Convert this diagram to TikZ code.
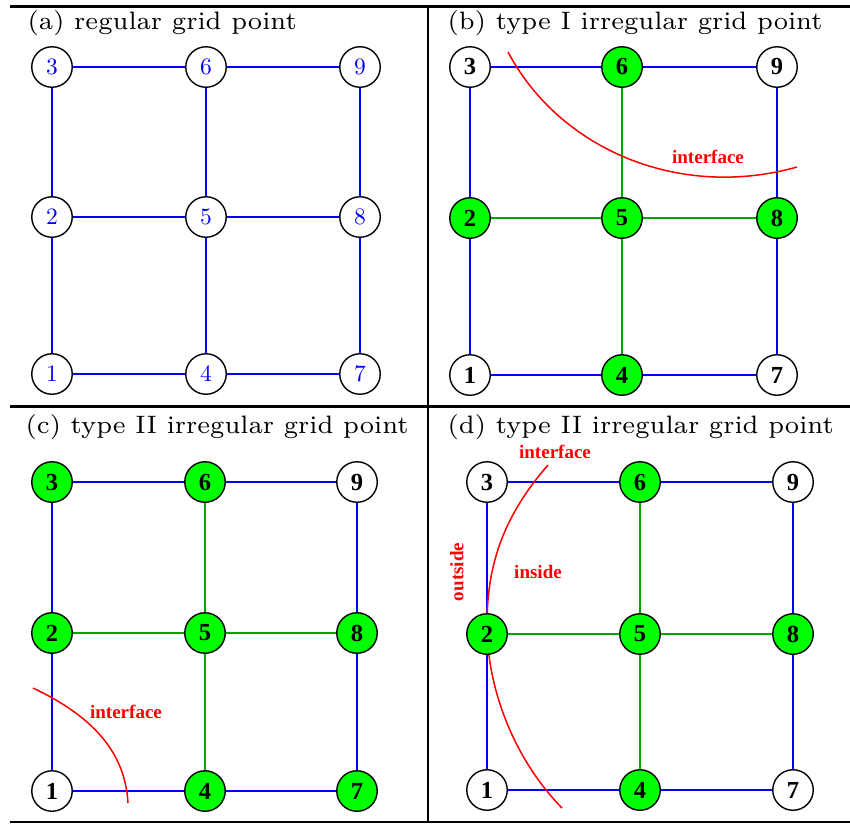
\documentclass[tikz,border=0pt]{standalone}
\usepackage{graphicx}
\usepackage{fontspec}
\newfontfamily\tnr{Liberation Serif}
\definecolor{gfill}{RGB}{0,255,0}
\definecolor{gedge}{RGB}{0,165,0}
\definecolor{bl}{RGB}{0,0,255}
\definecolor{rd}{RGB}{255,0,0}
\newcommand{\regnum}[1]{\scalebox{2.35}{\fontsize{10}{12}\selectfont #1}}
\pgfdeclarelayer{bglayer}
\pgfsetlayers{bglayer,main}
\begin{document}
\begin{tikzpicture}[x=1pt,y=-1pt,
 gp/.style={circle,draw=black,line width=1.4pt,minimum size=40.5pt,inner sep=0pt,fill=white},
 reg/.style={gp,text=bl},
 irr/.style={gp,font=\tnr\bfseries\fontsize{24.5}{24.5}\selectfont},
 on/.style={fill=gfill},
 be/.style={draw=bl,line width=2pt},
 ge/.style={draw=gedge,line width=2pt},
 ifc/.style={draw=rd,line width=1.5pt},
 ilab/.style={text=rd,font=\tnr\bfseries\fontsize{19}{19}\selectfont,inner sep=0pt},
 ttl/.style={anchor=base west,inner sep=0pt,scale=3.6,font=\fontsize{7}{8}\selectfont},
 framel/.style={line width=2.5pt}]
\useasboundingbox (0,0) rectangle (850,823);
% frame
\draw[framel] (10,6.5) -- (850,6.5);
\draw[framel] (10,406.5) -- (850,406.5);
\draw[framel] (10,822) -- (850,822);
\draw[framel] (428,5) -- (428,823);
% titles
\node[ttl] (ta) at (27,29) {(a) regular grid point};
\node[ttl] (tb) at (447,29) {(b) type I irregular grid point};
\node[ttl] (tc) at (25,433) {(c) type II irregular grid point};
\node[ttl] (td) at (447,433) {(d) type II irregular grid point};
% panel a
\node[reg] (a3) at (52,67) {\regnum{3}};
\node[reg] (a6) at (206,67) {\regnum{6}};
\node[reg] (a9) at (360,67) {\regnum{9}};
\node[reg] (a2) at (52,217) {\regnum{2}};
\node[reg] (a5) at (206,217) {\regnum{5}};
\node[reg] (a8) at (360,217) {\regnum{8}};
\node[reg] (a1) at (52,374) {\regnum{1}};
\node[reg] (a4) at (206,374) {\regnum{4}};
\node[reg] (a7) at (360,374) {\regnum{7}};
% panel b
\node[irr] (b3) at (470,67) {3};
\node[irr,on] (b6) at (622,67) {6};
\node[irr] (b9) at (777,67) {9};
\node[irr,on] (b2) at (470,218) {2};
\node[irr,on] (b5) at (622,218) {5};
\node[irr,on] (b8) at (777,218) {8};
\node[irr] (b1) at (470,375) {1};
\node[irr,on] (b4) at (622,375) {4};
\node[irr] (b7) at (777,375) {7};
\node[ilab] (lb) at (708,157) {interface};
% panel c
\node[irr,on] (c3) at (52,482) {3};
\node[irr,on] (c6) at (205,482) {6};
\node[irr] (c9) at (357,482) {9};
\node[irr,on] (c2) at (52,633) {2};
\node[irr,on] (c5) at (205,633) {5};
\node[irr,on] (c8) at (357,633) {8};
\node[irr] (c1) at (52,791) {1};
\node[irr,on] (c4) at (205,791) {4};
\node[irr,on] (c7) at (357,791) {7};
\node[ilab] (lc) at (126,712) {interface};
% panel d
\node[irr] (d3) at (487,482) {3};
\node[irr,on] (d6) at (640,482) {6};
\node[irr] (d9) at (793,482) {9};
\node[irr,on] (d2) at (487,634) {2};
\node[irr,on] (d5) at (640,634) {5};
\node[irr,on] (d8) at (793,634) {8};
\node[irr] (d1) at (487,790) {1};
\node[irr,on] (d4) at (640,790) {4};
\node[irr] (d7) at (793,790) {7};
\node[ilab] (ld) at (555,452) {interface};
\node[ilab] (li) at (538,572) {inside};
\node[ilab,rotate=90] (lo) at (457,572) {outside};
\begin{pgfonlayer}{bglayer}
% edges a
\draw[be] (a3)--(a6); \draw[be] (a6)--(a9);
\draw[be] (a2)--(a5); \draw[be] (a5)--(a8);
\draw[be] (a1)--(a4); \draw[be] (a4)--(a7);
\draw[be] (a3)--(a2); \draw[be] (a2)--(a1);
\draw[be] (a6)--(a5); \draw[be] (a5)--(a4);
\draw[be] (a9)--(a8); \draw[be] (a8)--(a7);
% edges b
\draw[be] (b3)--(b6); \draw[be] (b6)--(b9);
\draw[be] (b3)--(b2); \draw[be] (b2)--(b1);
\draw[be] (b1)--(b4); \draw[be] (b4)--(b7);
\draw[be] (b9)--(b8); \draw[be] (b8)--(b7);
\draw[ge] (b6)--(b5); \draw[ge] (b2)--(b5);
\draw[ge] (b5)--(b8); \draw[ge] (b5)--(b4);
\draw[ifc] (508,52) .. controls (560,150) and (680,200) .. (797,167);
% edges c
\draw[be] (c3)--(c6); \draw[be] (c6)--(c9);
\draw[be] (c3)--(c2); \draw[be] (c2)--(c1);
\draw[be] (c1)--(c4); \draw[be] (c4)--(c7);
\draw[be] (c9)--(c8); \draw[be] (c8)--(c7);
\draw[ge] (c6)--(c5); \draw[ge] (c2)--(c5);
\draw[ge] (c5)--(c8); \draw[ge] (c5)--(c4);
\draw[ifc] (33,688) .. controls (90,715) and (125,750) .. (128,803);
% edges d
\draw[be] (d3)--(d6); \draw[be] (d6)--(d9);
\draw[be] (d3)--(d2); \draw[be] (d2)--(d1);
\draw[be] (d1)--(d4); \draw[be] (d4)--(d7);
\draw[be] (d9)--(d8); \draw[be] (d8)--(d7);
\draw[ge] (d6)--(d5); \draw[ge] (d2)--(d5);
\draw[ge] (d5)--(d8); \draw[ge] (d5)--(d4);
\draw[ifc] (548,465) .. controls (500,520) and (487,570) .. (487,625) .. controls (487,690) and (515,760) .. (562,808);
\end{pgfonlayer}
\end{tikzpicture}
\end{document}
